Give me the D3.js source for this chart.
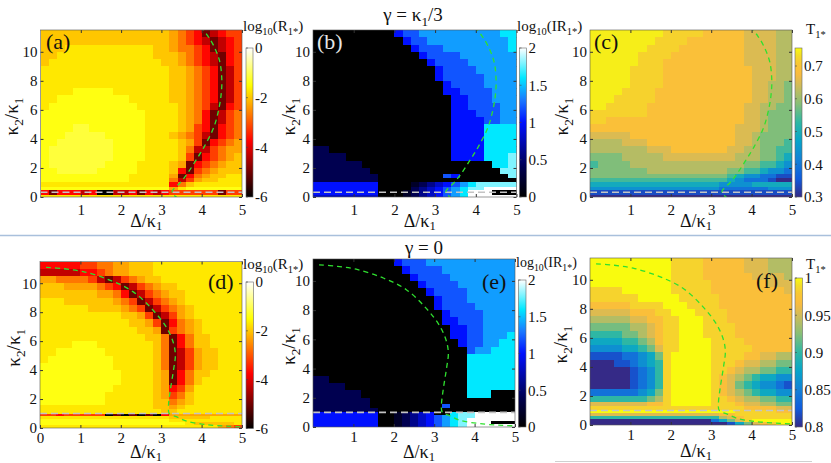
<!DOCTYPE html>
<html>
<head>
<meta charset="utf-8">
<script src="https://cdn.jsdelivr.net/npm/d3@7"></script>
<style>
  body { margin: 0; background: #fff; }
</style>
</head>
<body>
<svg id="chart" width="831" height="463" font-family="Liberation Serif"></svg>
<script>
// ---- values ----
// sampling grid: Delta/kappa1 column edges, kappa2/kappa1 row edges (rows listed top -> bottom)
const deltaEdges = [0, 0.2, 0.4, 0.6, 0.8, 1.0, 1.2, 1.4, 1.6, 1.8, 2.0, 2.2, 2.4, 2.6, 2.8,
                    3.0, 3.2, 3.4, 3.6, 3.8, 4.0, 4.2, 4.4, 4.6, 4.8, 5.0];
const kappaEdgesTop = [11.5, 11, 10.5, 10, 9.5, 9, 8.5, 8, 7.5, 7, 6.5, 6, 5.5, 5, 4.5, 4,
                       3.5, 3, 2.5, 2, 1.6, 1.3, 1.0, 0.7, 0.5, 0.15, 0];
const kappaEdgesBottom = [11.5, 11, 10.5, 10, 9.5, 9, 8.5, 8, 7.5, 7, 6.5, 6, 5.5, 5, 4.5, 4,
                          3.5, 3, 2.5, 2, 1.6, 1.3, 1.0, 0.8, 0.6, 0.4, 0.2, 0];

// each cell is one character, an index into the level list of its panel
const rLevels  = [-6, -5, -4.3, -3.7, -3.2, -2.7, -2.3, -2.0, -1.7, -1.4, -1.15, -0.5];
const irLevels = [0, 0.2, 0.4, 0.6, 0.8, 1.0, 1.2, 1.4, 1.6, 1.8, 2.0];
const tLevelsTop    = [0.30, 0.34, 0.39, 0.44, 0.49, 0.54, 0.58, 0.62, 0.65, 0.69, 0.72, 0.745];
const tLevelsBottom = [0.80, 0.82, 0.84, 0.86, 0.88, 0.90, 0.92, 0.94, 0.955, 0.97, 0.985, 1.0];

// (a) log10(R1*), gamma = kappa1/3
const rGridTop = [
  "77777 77777 77777 76543 12344",
  "77777 77777 77777 76543 21234",
  "77788 88888 88887 76554 31234",
  "77888 88888 88887 77654 32134",
  "78888 88888 88888 77654 32134",
  "88888 88888 88888 87765 43124",
  "88888 88888 88888 87765 43124",
  "88888 88888 88888 87765 43124",
  "88889 99998 88888 87765 43124",
  "88999 99999 98888 87765 43124",
  "89999 99999 99888 88765 42134",
  "99999 99999 99988 88765 31245",
  "99999 99999 99988 88765 31245",
  "9999a a9999 99988 88764 31345",
  "999aa aaa99 99988 87654 21345",
  "99aaa aaaa9 99988 88764 13456",
  "9aaaa aaaa9 99988 88752 24566",
  "9aaaa aaaa9 99988 88741 34567",
  "9aaaa aaa99 99888 87613 45677",
  "99aaa aa999 99888 87314 56777",
  "99999 99999 98888 86135 67788",
  "99999 99999 98888 85246 77888",
  "88888 88888 88888 83578 88888",
  "99999 99999 99999 96899 99999",
  "31333 23002 23132 34444 44144",
  "88888 88888 88888 88888 88888"
];
// (b) log10(IR1*), gamma = kappa1/3
const irGridTop = [
  "00000 00000 56677 77777 77788",
  "00000 00000 05667 77777 77778",
  "00000 00000 00566 67777 77778",
  "00000 00000 00056 66677 77777",
  "00000 00000 00005 66667 77777",
  "00000 00000 00000 56666 77777",
  "00000 00000 00000 56666 67777",
  "00000 00000 00000 05666 67777",
  "00000 00000 00000 05566 66777",
  "00000 00000 00000 00556 66777",
  "00000 00000 00000 00556 66677",
  "00000 00000 00000 00555 66677",
  "00000 00000 00000 00555 56677",
  "00000 00000 00000 00555 58888",
  "00000 00000 00000 00555 58888",
  "00000 00000 00000 00555 58888",
  "22000 00000 00000 00555 58888",
  "22220 00000 00000 00555 58889",
  "22222 20000 00000 00000 00889",
  "22222 22000 00000 00000 00099",
  "22222 22200 00000 06500 00009",
  "22222 22200 00000 00000 00000",
  "55555 55500 00123 45678 99999",
  "55555 55500 00234 56789 9aaaa",
  "55555 55500 01234 5678a aa000",
  "44444 44400 01234 5678a aaaaa"
];
// (c) T1*, gamma = kappa1/3
const tGridTop = [
  "bbbbb bbbba aaaa9 99998 88877",
  "bbbbb bbbaa aa999 99998 88877",
  "bbbbb bbaaa a9999 99998 88877",
  "bbbbb baaaa 99999 99998 88877",
  "bbbbb baaa9 99999 99998 88877",
  "bbbbb aaaa9 99999 99999 88877",
  "bbbbb aaaa9 99999 99999 88877",
  "bbbbb aaaa9 99999 99999 88776",
  "bbbba aaa99 99999 99999 88776",
  "bbbaa aaa99 99999 99999 88776",
  "bbaaa aa999 99999 99998 87766",
  "aaaaa aa999 99999 99998 87666",
  "aa999 99999 99999 99998 87666",
  "99999 99999 99999 99988 87666",
  "88888 99999 99999 99988 76666",
  "77778 88999 99999 99988 76665",
  "77777 77888 99999 99887 76655",
  "66667 77778 88888 88877 76654",
  "56666 77777 77777 77776 65543",
  "66666 66777 77777 77665 54332",
  "66666 66666 66666 66543 32211",
  "55555 55555 55555 55432 22100",
  "44444 44444 44444 43333 44444",
  "33333 33333 33333 32222 22333",
  "11111 11111 11111 11111 11111",
  "00000 00000 00000 00000 00000"
];
// (d) log10(R1*), gamma = 0
const rGridBottom = [
  "33333 44556 67778 88888 88888",
  "22222 33456 67778 88888 88888",
  "66555 54212 45677 88888 88888",
  "77766 66543 12456 77888 88888",
  "77777 77665 31245 67788 88888",
  "88877 77776 54124 56788 88888",
  "88888 87777 65412 45678 88888",
  "88888 88888 77641 24678 88888",
  "88888 88888 87764 13567 88888",
  "88888 88888 88776 14567 88888",
  "88888 88888 88877 51357 78888",
  "88889 99888 88887 51357 78888",
  "88999 99988 88887 51246 77888",
  "89999 99998 88887 51246 77888",
  "99999 99998 88887 51246 77888",
  "99999 99999 88887 61357 78888",
  "99999 99999 88887 61357 88888",
  "99999 99998 88887 63468 88888",
  "99999 99988 88887 64578 88888",
  "99999 99988 88887 75678 88888",
  "88888 88888 88887 76788 88888",
  "88888 88888 88888 77888 88888",
  "44344 44401 01010 36666 66666",
  "88888 88888 88888 87777 78888",
  "99999 99999 99999 98888 88888",
  "99999 99999 99999 99987 77778",
  "88888 88888 88888 88888 88654"
];
// (e) log10(IR1*), gamma = 0
const irGridBottom = [
  "00000 00000 56667 77777 77777",
  "00000 00000 05666 67777 77777",
  "00000 00000 00566 66777 77777",
  "00000 00000 00056 66677 77777",
  "00000 00000 00005 66667 77777",
  "00000 00000 00000 56667 77777",
  "00000 00000 00000 56666 77777",
  "00000 00000 00000 05666 67777",
  "00000 00000 00000 05566 67777",
  "00000 00000 00000 00556 67777",
  "00000 00000 00000 00556 67778",
  "00000 00000 00000 00056 67788",
  "00000 00000 00000 00006 77888",
  "00000 00000 00000 00008 88888",
  "00000 00000 00000 00008 88888",
  "00000 00000 00000 00008 88888",
  "22000 00000 00000 00008 88888",
  "22220 00000 00000 00008 88888",
  "22222 20000 00000 00008 88000",
  "22222 22000 00000 00000 00000",
  "22222 22000 00000 06000 00000",
  "22222 22200 00000 00000 00000",
  "55555 55500 12345 00899 aaaaa",
  "55555 55500 12345 67899 aaaaa",
  "55555 55500 12345 6789a aaaaa",
  "55555 55500 12345 6789a aa000",
  "55555 55500 12345 6789a aaaaa"
];
// (f) T1*, gamma = 0
const tGridBottom = [
  "bbbbb bbbbb aaaa9 99998 88777",
  "bbbbb bbbbb aaaa9 99998 88777",
  "bbbbb bbbbb aaaa9 99999 88887",
  "bbbbb bbbbb aaaaa 99999 99888",
  "aaaab bbbbb aaaaa 99999 99998",
  "aaaaa abbbb baaaa a9999 99999",
  "99999 aaaab bbaaa a9999 99999",
  "88888 999aa bbbaa aa999 99999",
  "77777 8899a abbba aa999 99999",
  "66666 7789a abbba aaa99 99999",
  "55556 6789a abbba aaa99 99999",
  "44445 5679a abbbb aaaa9 99999",
  "33334 4568a abbbb aaaaa 99999",
  "11112 2346a bbbbb aaaa9 98877",
  "00011 2345a bbbbb aaa98 87766",
  "00000 1235a bbbbb aa987 76655",
  "00000 1235a bbbbb a9876 54433",
  "00000 1235a bbbbb a9865 43321",
  "22222 2346a bbbbb a9876 54433",
  "55555 5567a bbbbb aa987 76655",
  "88888 8899a bbbbb aaa98 87766",
  "aaaaa aaaaa aaaaa aaaa9 99988",
  "bbbbb bbbbb bbbbb bbbaa aaa99",
  "88888 88888 88888 899aa aaaaa",
  "55555 55555 55555 5789a aaaaa",
  "00000 00000 00000 2468a bbbbb",
  "00000 00000 00000 00146 89abb"
];

// green dashed curves and grey resonance lines
const curveTopDelta = [3.42, 3.26, 3.47, 3.64, 3.85, 4.05, 4.3, 4.42, 4.48, 4.5, 4.45, 4.3, 4.15, 4.0];
const curveTopKappa = [-0.1, 0.33, 1.0, 1.6, 2.5, 3.4, 4.8, 6.0, 7.0, 8.0, 9.3, 10.4, 11.1, 11.6];
const curveBottomDelta = [0.15, 0.6, 1.07, 1.74, 2.31, 2.81, 3.14, 3.31, 3.35, 3.31, 3.22, 3.18, 3.2, 3.4, 3.64, 4.13, 4.71, 5.0];
const curveBottomKappa = [11.1, 11.0, 10.8, 10.2, 9.4, 8.1, 6.9, 5.8, 5.0, 4.1, 2.5, 1.5, 1.0, 0.75, 0.46, 0.23, 0.11, 0.08];
const resonanceTop = 0.33;
const resonanceBottom = 1.0;

const xTicksTop = [1, 2, 3, 4, 5];
const xTicksD = [0, 1, 2, 3, 4, 5];
const yTicks = [0, 2, 4, 6, 8, 10];
const rBarTicks = [0, -2, -4, -6];
const irBarTicks = [0, 0.5, 1, 1.5, 2];
const tBarTicksTop = [0.3, 0.4, 0.5, 0.6, 0.7];
const tBarTicksBottom = [0.8, 0.85, 0.9, 0.95, 1];

const FONT = "Liberation Serif";

// ---- colour maps ----
function hot(v) {
  const t = Math.max(0, Math.min(1, (v + 6) / 6));
  const c = x => Math.max(0, Math.min(1, x));
  return d3.rgb(255 * c(t / 0.375), 255 * c((t - 0.375) / 0.375), 255 * c((t - 0.75) / 0.25));
}
const irScale = d3.scaleLinear()
  .domain([0, 0.4, 1.0, 1.3, 1.6, 2])
  .range(["#000000", "#000050", "#0010ff", "#1a78ff", "#00e8ff", "#ffffff"])
  .clamp(true);
const parulaPos = [0, 0.125, 0.25, 0.375, 0.5, 0.625, 0.75, 0.83, 0.9, 0.95, 1];
const parulaCol = ["#352a87", "#0f5cdd", "#1481d6", "#06a4ca", "#2eb7a4", "#87bf77",
                   "#d1bb59", "#fbbb3d", "#f8c832", "#f3dd27", "#f9fb0e"];
function parulaFor(lo, hi) {
  return d3.scaleLinear()
    .domain(parulaPos.map(t => lo + (hi - lo) * t))
    .range(parulaCol).clamp(true);
}

const svg = d3.select("#chart");
const defs = svg.append("defs");

function txt(g, x, y, size) {
  return g.append("text").attr("x", x).attr("y", y)
    .attr("font-family", FONT).style("font-family", FONT)
    .style("font-size", size + "px").attr("fill", "#111");
}

function richText(g, parts, x, y, size, opts = {}) {
  const t = txt(g, x, y, size);
  if (opts.anchor) t.attr("text-anchor", opts.anchor);
  if (opts.transform) t.attr("transform", opts.transform);
  const off = size * (opts.sub || 0.25);
  let down = false;
  parts.forEach(p => {
    const s = t.append("tspan").text(p[0]);
    if (p[1]) { s.attr("dy", down ? 0 : off).style("font-size", (size * 0.7) + "px"); down = true; }
    else if (down) { s.attr("dy", -off); down = false; }
  });
  return t;
}

const panels = [
  { id: "a", grid: rGridTop, levels: rLevels, color: hot, kEdges: kappaEdgesTop,
    x0: 40.5, x1: 242, yT: 30, yB: 197, xTicks: xTicksTop, xlab: 227, tpad: 7,
    curveD: curveTopDelta, curveK: curveTopKappa, res: resonanceTop,
    label: "(a)", lx: 46, ly: 49, lfill: "#111",
    bar: { x: 246, w: 7, yT: 48, yB: 197, dom: [-6, 0], ticks: rBarTicks, fmt: d => d === 0 ? "0" : "-" + Math.abs(d) },
    barTitle: [["log"], ["10", 1], ["(R"], ["1*", 1], [")"]], btx: 243, bty: 31, ylx: 18 },
  { id: "b", grid: irGridTop, levels: irLevels, color: irScale, kEdges: kappaEdgesTop,
    x0: 313, x1: 516.5, yT: 30, yB: 197, xTicks: xTicksTop, xlab: 227, tpad: 7,
    curveD: curveTopDelta, curveK: curveTopKappa, res: resonanceTop,
    label: "(b)", lx: 317, ly: 49, lfill: "#e6e6e6",
    bar: { x: 519.5, w: 7, yT: 48, yB: 197, dom: [0, 2], ticks: irBarTicks, fmt: d => String(d) },
    barTitle: [["log"], ["10", 1], ["(IR"], ["1*", 1], [")"]], btx: 517, bty: 31, ylx: 295 },
  { id: "c", grid: tGridTop, levels: tLevelsTop, color: parulaFor(0.3, 0.755), kEdges: kappaEdgesTop,
    x0: 590, x1: 792, yT: 30, yB: 197, xTicks: xTicksTop, xlab: 227, tpad: 7,
    curveD: curveTopDelta, curveK: curveTopKappa, res: resonanceTop,
    label: "(c)", lx: 594, ly: 49, lfill: "#111",
    bar: { x: 795, w: 7, yT: 48, yB: 197, dom: [0.3, 0.755], ticks: tBarTicksTop, fmt: d => String(d) },
    barTitle: [["T"], ["1*", 1]], btx: 806, bty: 34, ylx: 568 },
  { id: "d", grid: rGridBottom, levels: rLevels, color: hot, kEdges: kappaEdgesBottom,
    x0: 40, x1: 242, yT: 261.5, yB: 428, xTicks: xTicksD, xlab: 458, tpad: 4,
    curveD: curveBottomDelta, curveK: curveBottomKappa, res: resonanceBottom,
    label: "(d)", lx: 208, ly: 289, lfill: "#111",
    bar: { x: 246, w: 7.5, yT: 282, yB: 428.5, dom: [-6, 0], ticks: rBarTicks, fmt: d => d === 0 ? "0" : "-" + Math.abs(d) },
    barTitle: [["log"], ["10", 1], ["(R"], ["1*", 1], [")"]], btx: 243, bty: 269, ylx: 20 },
  { id: "e", grid: irGridBottom, levels: irLevels, color: irScale, kEdges: kappaEdgesBottom,
    x0: 313, x1: 515, yT: 259, yB: 427, xTicks: xTicksTop, xlab: 458, tpad: 4,
    curveD: curveBottomDelta, curveK: curveBottomKappa, res: resonanceBottom,
    label: "(e)", lx: 482, ly: 289, lfill: "#111",
    bar: { x: 518.5, w: 7.5, yT: 280, yB: 427, dom: [0, 2], ticks: irBarTicks, fmt: d => String(d) },
    barTitle: [["log"], ["10", 1], ["(IR"], ["1*", 1], [")"]], btx: 516, bty: 267, ylx: 295, btSize: 14 },
  { id: "f", grid: tGridBottom, levels: tLevelsBottom, color: parulaFor(0.8, 1.0), kEdges: kappaEdgesBottom,
    x0: 590, x1: 792, yT: 258, yB: 425, xTicks: xTicksTop, xlab: 457, tpad: 4,
    curveD: curveBottomDelta, curveK: curveBottomKappa, res: resonanceBottom,
    label: "(f)", lx: 756, ly: 288, lfill: "#111",
    bar: { x: 795, w: 7.5, yT: 278, yB: 427, dom: [0.8, 1.0], ticks: tBarTicksBottom, fmt: d => String(d) },
    barTitle: [["T"], ["1*", 1]], btx: 806, bty: 269, ylx: 567 }
];

panels.forEach(p => {
  const x = d3.scaleLinear().domain([0, 5]).range([p.x0, p.x1]);
  const y = d3.scaleLinear().domain([0, 11.5]).range([p.yB, p.yT]);
  const g = svg.append("g").attr("class", "panel-" + p.id);

  defs.append("clipPath").attr("id", "clip-" + p.id)
    .append("rect").attr("x", p.x0).attr("y", p.yT)
    .attr("width", p.x1 - p.x0).attr("height", p.yB - p.yT);
  const plot = g.append("g").attr("clip-path", `url(#clip-${p.id})`);

  // heat map cells
  const cells = [];
  p.grid.forEach((row, i) => {
    row.replace(/ /g, "").split("").forEach((ch, j) => {
      cells.push({ d0: deltaEdges[j], d1: deltaEdges[j + 1],
                   k0: p.kEdges[i + 1], k1: p.kEdges[i],
                   v: p.levels[parseInt(ch, 36)] });
    });
  });
  plot.selectAll("rect.cell").data(cells).join("rect")
    .attr("class", "cell")
    .attr("x", d => x(d.d0))
    .attr("y", d => y(d.k1))
    .attr("width", d => x(d.d1) - x(d.d0) + 0.6)
    .attr("height", d => y(d.k0) - y(d.k1) + 0.6)
    .attr("fill", d => p.color(d.v))
    .attr("shape-rendering", "crispEdges");

  // resonance line
  plot.append("line")
    .attr("x1", x(0)).attr("x2", x(5))
    .attr("y1", y(p.res)).attr("y2", y(p.res))
    .attr("stroke", "#c4c4c4").attr("stroke-width", 1.6)
    .attr("stroke-dasharray", "7,4");

  // green dashed curve
  const pts = p.curveD.map((d, i) => [d, p.curveK[i]]);
  plot.append("path")
    .attr("d", d3.line().x(d => x(d[0])).y(d => y(d[1])).curve(d3.curveCatmullRom)(pts))
    .attr("fill", "none").attr("stroke", "#2fe02f").attr("stroke-width", 1.3)
    .attr("stroke-dasharray", "5,4");

  // axes with inward ticks
  const axB = g.append("g").attr("transform", `translate(0,${p.yB})`)
    .call(d3.axisBottom(x).tickValues(p.xTicks).tickSizeInner(-3).tickSizeOuter(0).tickPadding(p.tpad).tickFormat(d3.format("d")));
  const axT = g.append("g").attr("transform", `translate(0,${p.yT})`)
    .call(d3.axisTop(x).tickValues([1, 2, 3, 4, 5]).tickSizeInner(-3).tickSizeOuter(0).tickFormat(""));
  const axL = g.append("g").attr("transform", `translate(${p.x0},0)`)
    .call(d3.axisLeft(y).tickValues(yTicks).tickSizeInner(-3).tickSizeOuter(0).tickPadding(3));
  const axR = g.append("g").attr("transform", `translate(${p.x1},0)`)
    .call(d3.axisRight(y).tickValues(yTicks).tickSizeInner(-3).tickSizeOuter(0).tickFormat(""));
  [axB, axT, axL, axR].forEach(a => {
    a.attr("font-family", FONT).attr("font-size", 15);
    a.select(".domain").remove();
    a.selectAll("line").attr("stroke", "#333");
    a.selectAll("text").attr("font-family", FONT).style("font-family", FONT)
      .style("font-size", "15px").attr("fill", "#111");
  });

  g.append("rect").attr("x", p.x0).attr("y", p.yT)
    .attr("width", p.x1 - p.x0).attr("height", p.yB - p.yT)
    .attr("fill", "none").attr("stroke", "#555").attr("stroke-width", 0.6);

  // panel label
  txt(g, p.lx, p.ly, 22).text(p.label).attr("fill", p.lfill);

  // axis labels
  richText(g, [["\u0394/\u03ba"], ["1", 1]], (p.x0 + p.x1) / 2 + 5, p.xlab, 18, { anchor: "middle", sub: 0.18 });
  const yc = (p.yT + p.yB) / 2 + 3;
  richText(g, [["\u03ba"], ["2", 1], ["/\u03ba"], ["1", 1]], 0, 0, 19,
    { anchor: "middle", transform: `translate(${p.ylx},${yc}) rotate(-90)` });

  // colour bar
  const b = p.bar;
  const by = d3.scaleLinear().domain(b.dom).range([b.yB, b.yT]);
  const grad = defs.append("linearGradient").attr("id", "grad-" + p.id)
    .attr("x1", 0).attr("y1", 1).attr("x2", 0).attr("y2", 0);
  d3.range(41).forEach(i => {
    const v = b.dom[0] + (b.dom[1] - b.dom[0]) * i / 40;
    grad.append("stop").attr("offset", (i / 40 * 100) + "%").attr("stop-color", p.color(v));
  });
  g.append("rect").attr("x", b.x).attr("y", b.yT).attr("width", b.w).attr("height", b.yB - b.yT)
    .attr("fill", `url(#grad-${p.id})`).attr("stroke", "#666").attr("stroke-width", 0.6);
  b.ticks.forEach(t => {
    g.append("line").attr("x1", b.x).attr("x2", b.x + 2).attr("y1", by(t)).attr("y2", by(t))
      .attr("stroke", "#444").attr("stroke-width", 0.6);
    txt(g, b.x + b.w + 2, by(t), 15).attr("dy", "0.35em").text(b.fmt(t));
  });
  richText(g, p.barTitle, p.btx, p.bty, p.btSize || 15);
});

// row titles
richText(svg, [["\u03b3 = \u03ba"], ["1", 1], ["/3"]], 413, 21, 19, { anchor: "middle" });
txt(svg, 424, 254, 19).attr("text-anchor", "middle").text("\u03b3 = 0");

// separator lines
svg.append("line").attr("x1", 0).attr("x2", 831).attr("y1", 235.5).attr("y2", 235.5)
  .attr("stroke", "#a9c0dc").attr("stroke-width", 1.4);
svg.append("line").attr("x1", 555).attr("x2", 812).attr("y1", 461.5).attr("y2", 461.5)
  .attr("stroke", "#d0d0d0").attr("stroke-width", 1);
</script>
</body>
</html>
